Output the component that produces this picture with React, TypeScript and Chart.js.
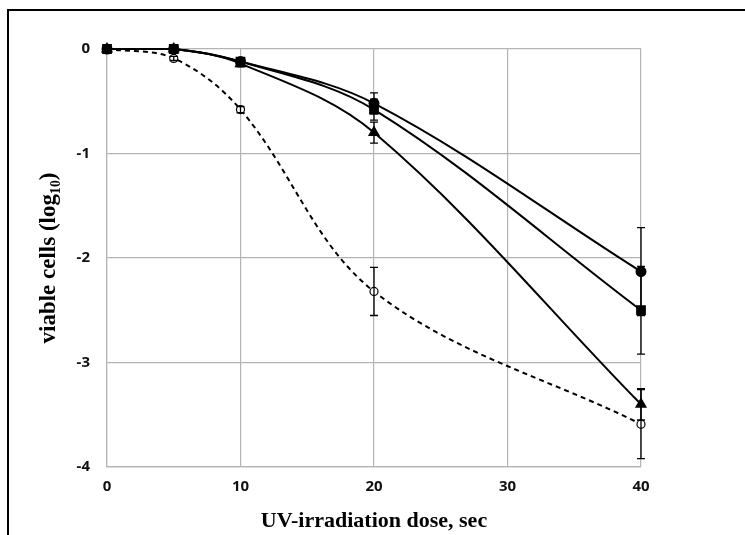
import React, { useEffect, useRef } from "react";
import { Chart, registerables } from "chart.js";

Chart.register(...registerables);

const doses = [0, 5, 10, 20, 40];
const seriesCircle = [0, 0, -0.12, -0.52, -2.13];
const seriesSquare = [0, 0, -0.12, -0.58, -2.5];
const seriesTriangle = [0, 0, -0.14, -0.8, -3.4];
const seriesOpen = [0, -0.09, -0.58, -2.32, -3.59];

const errCircle = [0, 0, 0.03, 0.1, 0.42];
const errSquare = [0, 0, 0.03, 0.1, 0.42];
const errTriangle = [0, 0, 0.03, 0.1, 0.15];
const errOpen = [0, 0.02, 0.03, 0.23, 0.33];

const xTicks = [0, 10, 20, 30, 40];
const yTicks = [0, -1, -2, -3, -4];

const toPoints = (vals: number[]) => doses.map((x, i) => ({ x, y: vals[i] }));

const errorBarPlugin = {
  id: "errorBars",
  afterDatasetsDraw(chart: any) {
    const ctx = chart.ctx;
    const xs = chart.scales.x;
    const ys = chart.scales.y;
    ctx.save();
    ctx.strokeStyle = "#000";
    ctx.lineWidth = 1.3;
    chart.data.datasets.forEach((ds: any) => {
      const errs: number[] = ds.errors || [];
      ds.data.forEach((p: any, i: number) => {
        const e = errs[i];
        if (!e) return;
        const px = xs.getPixelForValue(p.x);
        const y1 = ys.getPixelForValue(p.y + e);
        const y2 = ys.getPixelForValue(p.y - e);
        ctx.beginPath();
        ctx.moveTo(px, y1);
        ctx.lineTo(px, y2);
        ctx.moveTo(px - 4, y1);
        ctx.lineTo(px + 4, y1);
        ctx.moveTo(px - 4, y2);
        ctx.lineTo(px + 4, y2);
        ctx.stroke();
      });
    });
    ctx.restore();
  },
};

export default function App() {
  const ref = useRef<HTMLCanvasElement>(null);
  useEffect(() => {
    if (!ref.current) return;
    const base = {
      borderColor: "#000",
      borderWidth: 2,
      tension: 0.35,
      clip: false as any,
      pointBorderColor: "#000",
    };
    const tickFont = { family: "Noto Sans", size: 15, weight: "bold" as any };
    const chart = new Chart(ref.current, {
      type: "line",
      data: {
        datasets: [
          {
            ...base,
            label: "circle",
            data: toPoints(seriesCircle),
            errors: errCircle,
            pointStyle: "circle",
            pointRadius: 4.5,
            pointBackgroundColor: "#000",
          } as any,
          {
            ...base,
            label: "square",
            data: toPoints(seriesSquare),
            errors: errSquare,
            pointStyle: "rect",
            pointRadius: 5.5,
            pointBackgroundColor: "#000",
          } as any,
          {
            ...base,
            label: "triangle",
            data: toPoints(seriesTriangle),
            errors: errTriangle,
            pointStyle: "triangle",
            pointRadius: 5,
            pointBackgroundColor: "#000",
          } as any,
          {
            ...base,
            label: "open",
            data: toPoints(seriesOpen),
            errors: errOpen,
            borderDash: [5, 4],
            pointStyle: "circle",
            pointRadius: 4,
            pointBorderWidth: 1.2,
            pointBackgroundColor: "#fff",
          } as any,
        ],
      },
      options: {
        responsive: false,
        animation: false,
        layout: { padding: { top: 49, right: 104, left: 0, bottom: 0 } },
        plugins: { legend: { display: false }, tooltip: { enabled: false } },
        scales: {
          x: {
            type: "linear",
            min: 0,
            max: 40,
            afterFit: (s: any) => {
              s.height = 68;
            },
            afterBuildTicks: (s: any) => {
              s.ticks = xTicks.map((v) => ({ value: v }));
            },
            grid: { color: "#b4b4b4", lineWidth: 1.2, drawTicks: false },
            border: { color: "#b4b4b4", width: 1.2 },
            ticks: {
              color: "#111",
              padding: 11,
              font: tickFont,
            },
            title: {
              display: true,
              text: "UV-irradiation dose, sec",
              color: "#000",
              font: { family: "Liberation Serif", size: 22, weight: "bold" },
              padding: { top: 0, bottom: 0 },
            },
          },
          y: {
            type: "linear",
            min: -4,
            max: 0,
            afterFit: (s: any) => {
              s.width = 107;
            },
            afterBuildTicks: (s: any) => {
              s.ticks = yTicks.map((v) => ({ value: v }));
            },
            grid: { color: "#b4b4b4", lineWidth: 1.2, drawTicks: false },
            border: { color: "#b4b4b4", width: 1.2 },
            ticks: {
              color: "#111",
              padding: 17,
              font: tickFont,
            },
            title: {
              display: true,
              text: "viable cells (log\u2081\u2080)",
              color: "#000",
              font: { family: "Liberation Serif", size: 23, weight: "bold" },
              padding: { top: 35, bottom: 0 },
            },
          },
        },
      },
      plugins: [errorBarPlugin],
    });
    return () => chart.destroy();
  }, []);
  return (
    <div
      style={{
        position: "fixed",
        left: 0,
        top: 0,
        width: 745,
        height: 535,
        background: "#fff",
      }}
    >
      <canvas ref={ref} width={745} height={535} style={{ display: "block" }} />
      <div
        style={{
          position: "absolute",
          left: 7,
          top: 9,
          width: 745,
          height: 535,
          borderLeft: "2px solid #000",
          borderTop: "2px solid #000",
          pointerEvents: "none",
        }}
      />
    </div>
  );
}
